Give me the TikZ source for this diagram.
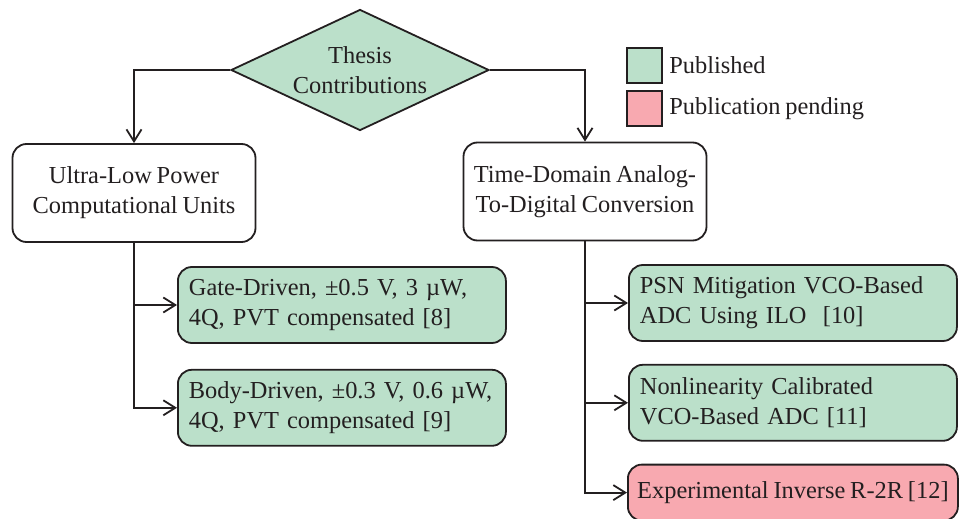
\documentclass[tikz,border=0pt]{standalone}
\usepackage{fontspec}
\setmainfont[WordSpace=0.8]{Liberation Serif}
\usetikzlibrary{arrows.meta,positioning,shapes.geometric}
\definecolor{pubgreen}{HTML}{BBE0CA}
\definecolor{pendpink}{HTML}{F8A9B0}
\definecolor{linegray}{HTML}{231F20}

\begin{document}
\begin{tikzpicture}[
  x=0.5pt, y=-0.5pt,
  font=\fontsize{12.2pt}{15pt}\selectfont,
  every node/.style={text=linegray},
  topic/.style={draw=linegray, line width=0.9pt, rounded corners=7pt, fill=white, align=center, minimum width=121.5pt, minimum height=49pt, inner sep=2pt},
  contrib/.style={draw=linegray, line width=0.9pt, rounded corners=7pt, fill=pubgreen, align=left, text width=153pt, inner xsep=5.5pt, minimum height=38pt},
  pending/.style={draw=linegray, line width=0.9pt, rounded corners=7pt, fill=pendpink, minimum width=165pt, minimum height=28pt, inner xsep=2pt},
  root/.style={diamond, draw=linegray, line width=0.9pt, fill=pubgreen, aspect=2.13, inner sep=0pt, minimum width=129pt, minimum height=60.5pt, align=center},
  legbox/.style={draw=linegray, line width=0.9pt, minimum size=17.5pt, inner sep=0pt},
  arrow/.style={-{Straight Barb[length=6pt, width=7.5pt]}, draw=linegray, line width=0.9pt}
]
\useasboundingbox (0,0) rectangle (959,519);

% root and the two research lines
\node[root] (thesis) at (360,70) {Thesis\\Contributions};
\node[topic] (ulp) at (134,193) {Ultra-Low Power\\Computational Units};
\node[topic] (tdc) at (585,191.5) {Time-Domain Analog-\\To-Digital Conversion};

% contributions
\node[contrib, anchor=west] (gate) at (177,305) {Gate-Driven, ±0.5 V, 3 µW,\\4Q, PVT compensated [8]};
\node[contrib, below=12.5pt of gate] (body) {Body-Driven, ±0.3 V, 0.6 µW,\\4Q, PVT compensated [9]};
\node[contrib, anchor=west] (psn) at (628,303) {PSN Mitigation VCO-Based\\ADC Using ILO~~[10]};
\node[contrib, below=11pt of psn] (nonlin) {Nonlinearity Calibrated\\VCO-Based ADC [11]};
\node[pending, below=11pt of nonlin] (r2r) {Experimental Inverse R-2R [12]};

% legend
\node[legbox, fill=pubgreen] (pubsq) at (644.5,65.5) {};
\node[legbox, fill=pendpink, below=3pt of pubsq] (pendsq) {};
\node[right=2pt of pubsq, inner sep=1pt] (publabel) {Published};
\node[right=2pt of pendsq, inner sep=1pt] (pendlabel) {Publication pending};

\draw[arrow] (thesis.west) -| (ulp.north);
\draw[arrow] (thesis.east) -| (tdc.north);
\draw[arrow] (ulp.south) |- (gate.west);
\draw[arrow] (ulp.south) |- (body.west);
\draw[arrow] (tdc.south) |- (psn.west);
\draw[arrow] (tdc.south) |- (nonlin.west);
\draw[arrow] (tdc.south) |- (r2r.west);
\end{tikzpicture}
\end{document}
